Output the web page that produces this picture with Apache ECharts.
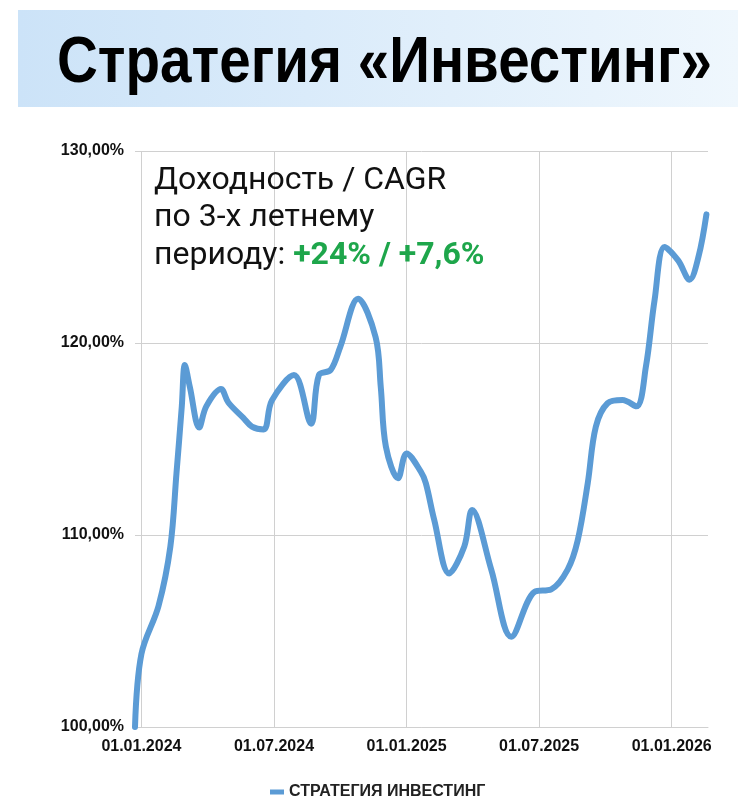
<!DOCTYPE html>
<html><head><meta charset="utf-8">
<script src="https://cdn.jsdelivr.net/npm/echarts@6/dist/echarts.min.js"></script>
<style>html,body{margin:0;padding:0;background:#fff}#c{width:738px;height:810px}</style>
</head><body><div id="c"></div>
<script>
// ---- data ----
const titleText = 'Стратегия «Инвестинг»';
const seriesName = 'СТРАТЕГИЯ ИНВЕСТИНГ';
const noteLines = ['Доходность / CAGR', 'по 3-х летнему', 'периоду: '];
const noteHighlight = '+24% / +7,6%';
const xTickLabels = ['01.01.2024', '01.07.2024', '01.01.2025', '01.07.2025', '01.01.2026'];
const yTicks = [100, 110, 120, 130];
const xRange = ['2023-12-23', '2026-02-19'];
const dates = [
  '2023-12-23', '2024-01-01', '2024-01-25', '2024-02-10', '2024-02-18', '2024-02-25', '2024-02-29',
  '2024-03-07', '2024-03-20', '2024-03-30', '2024-04-19', '2024-04-29', '2024-05-20', '2024-06-01',
  '2024-06-17', '2024-06-28', '2024-07-29', '2024-08-22', '2024-09-02', '2024-09-18', '2024-10-01',
  '2024-10-26', '2024-11-19', '2024-11-26', '2024-12-03', '2024-12-20', '2025-01-01', '2025-01-21',
  '2025-01-28', '2025-02-08', '2025-02-27', '2025-03-20', '2025-03-31', '2025-04-26', '2025-05-24',
  '2025-06-25', '2025-07-18', '2025-08-10', '2025-08-24', '2025-09-07', '2025-09-18', '2025-10-04',
  '2025-10-25', '2025-11-13', '2025-11-26', '2025-12-08', '2025-12-22', '2026-01-10', '2026-01-26',
  '2026-02-07', '2026-02-17'
];
const values = [
  100.0, 103.8, 106.3, 109.4, 113.2, 116.7, 118.85,
  117.7, 115.6, 116.7, 117.6, 116.9, 116.1, 115.65,
  115.5, 117.0, 118.33, 115.8, 118.33, 118.6, 119.8,
  122.3, 120.3, 117.7, 114.6, 112.95, 114.25, 113.3,
  112.7, 110.8, 108.0, 109.4, 111.3, 108.2, 104.7,
  107.05, 107.17, 108.2, 109.7, 112.7, 115.64, 116.86,
  117.03, 116.7, 118.77, 122.24, 125.0, 124.3, 123.3,
  124.5, 126.7
];

// ---- helpers ----
function monthIndex(s) {
  const p = s.split('-').map(Number);
  const dim = new Date(Date.UTC(p[0], p[1], 0)).getUTCDate();
  return (p[0] - 2024) * 12 + (p[1] - 1) + (p[2] - 1) / dim;
}
function labelToIndex(l) {
  const p = l.split('.').map(Number);
  return (p[2] - 2024) * 12 + (p[1] - 1) + (p[0] - 1) / 31;
}
const tickIdx = xTickLabels.map(labelToIndex);
const seriesData = dates.map((d, i) => [monthIndex(d), values[i]]);

const titleFont = 'bold 65px "Liberation Sans", Arial, sans-serif';
const cv = document.createElement('canvas').getContext('2d');
cv.font = titleFont;
const titleScale = 655 / cv.measureText(titleText).width;

const noteFont = '32px Roboto, "Liberation Sans", sans-serif';
const noteBold = 'bold 32px Roboto, "Liberation Sans", sans-serif';

const chart = echarts.init(document.getElementById('c'), null, { renderer: 'canvas' });
chart.setOption({
  animation: false,
  backgroundColor: '#ffffff',
  grid: { left: 135, right: 30, top: 151, bottom: 83, containLabel: false },
  xAxis: {
    type: 'value',
    min: monthIndex(xRange[0]),
    max: monthIndex(xRange[1]),
    axisLine: { show: true, lineStyle: { color: '#d0d0d0', width: 1 } },
    axisTick: { show: false, customValues: tickIdx },
    axisLabel: {
      customValues: tickIdx,
      margin: 12,
      color: '#111',
      fontFamily: '"Liberation Sans", Arial, sans-serif',
      fontWeight: 'bold',
      fontSize: 16,
      formatter: v => xTickLabels[tickIdx.findIndex(t => Math.abs(t - v) < 1e-6)] || ''
    },
    splitLine: { show: true, lineStyle: { color: '#d0d0d0', width: 1 } }
  },
  yAxis: {
    type: 'value',
    min: 100, max: 130, interval: 10,
    axisLine: { show: false },
    axisTick: { show: true, length: 3, lineStyle: { color: '#d0d0d0' } },
    axisLabel: {
      margin: 11,
      color: '#111',
      fontFamily: '"Liberation Sans", Arial, sans-serif',
      fontWeight: 'bold',
      fontSize: 16,
      formatter: v => v.toFixed(2).replace('.', ',') + '%'
    },
    splitLine: { show: true, lineStyle: { color: '#d0d0d0', width: 1 } }
  },
  legend: {
    left: 265, top: 779,
    itemWidth: 14, itemHeight: 5, itemGap: 8,
    icon: 'rect',
    textStyle: { color: '#222', fontFamily: '"Liberation Sans", Arial, sans-serif', fontWeight: 'bold', fontSize: 16 },
    data: [seriesName]
  },
  series: [{
    name: seriesName,
    type: 'line',
    data: seriesData,
    smooth: 0.35,
    showSymbol: false,
    symbol: 'none',
    clip: false,
    lineStyle: { color: '#5b9bd5', width: 6, cap: 'round', join: 'round' },
    itemStyle: { color: '#5b9bd5' }
  }],
  graphic: [
    {
      type: 'rect', left: 18, top: 10, z: 0,
      shape: { width: 720, height: 97 },
      style: {
        fill: new echarts.graphic.LinearGradient(0, 0, 1, 0, [
          { offset: 0, color: '#cce3f8' },
          { offset: 1, color: '#eff7fd' }
        ])
      }
    },
    {
      type: 'text', x: 57, y: 64, scaleX: titleScale, z: 10,
      style: {
        text: titleText, font: titleFont, fill: '#000',
        textAlign: 'left', textVerticalAlign: 'middle'
      }
    },
    {
      type: 'text', x: 154, y: 162, z: 10,
      style: {
        text: noteLines[0] + '\n' + noteLines[1] + '\n' + noteLines[2] + '{g|' + noteHighlight + '}',
        font: noteFont,
        fill: '#111', lineHeight: 37.5,
        rich: {
          g: { fill: '#1ea64b', font: noteBold, lineHeight: 37.5 }
        }
      }
    }
  ]
});
</script>
</body></html>
